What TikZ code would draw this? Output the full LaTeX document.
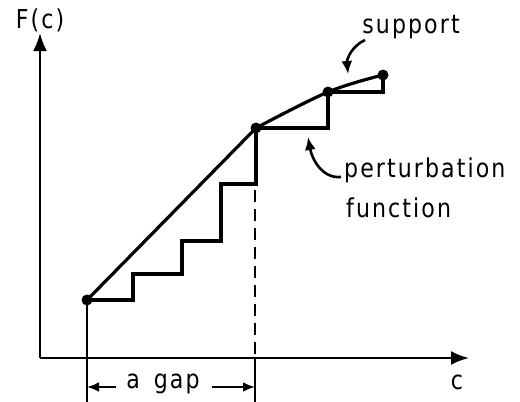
\documentclass[tikz,border=0pt]{standalone}
\usepackage{fontspec}
\newfontfamily\lbl[FakeStretch=0.85,LetterSpace=8]{DejaVu Sans}
\usetikzlibrary{arrows.meta}
\begin{document}
\begin{tikzpicture}[x=1pt,y=1pt,
  curve/.style={line width=3.2pt, line join=miter},
  axis/.style={line width=2.4pt, -{Latex[length=18pt,width=14pt]}},
  dim/.style={line width=2.4pt, -{Latex[length=12pt,width=10pt]}},
  lead/.style={line width=2.6pt, -{Latex[length=13pt,width=11pt]}},
  dot/.style={circle, fill=black, inner sep=0pt, minimum size=11pt},
  txt/.style={font=\lbl\fontsize{26}{30}\selectfont, inner sep=0pt}]
\useasboundingbox (0,0) rectangle (520,-402);
% points
\node[dot] (A) at (87,-300) {};
\node[dot] (B) at (256,-128) {};
\node[dot] (C) at (328,-92) {};
\node[dot] (D) at (383,-75) {};
\coordinate (O) at (40,-358);
\coordinate (Ytop) at (40,-33);
\coordinate (Xend) at (469,-358);
% axes
\draw[axis] (O) -- (Ytop);
\draw[axis] (O) -- (Xend);
\node[txt] (Fc) at (40,-20) {F(c)};
\node[txt] (c) at (457,-382) {c};
% support curve
\draw[curve] (A.center) -- (B.center);
\draw[curve] plot[smooth, tension=0.6] coordinates {(B.center) (C.center) (D.center)};
% perturbation steps
\draw[curve] (A.center) -- (133,-300) -- (133,-274) -- (182,-274) -- (182,-241)
  -- (221,-241) -- (221,-184) -- (256,-184) -- (B.center)
  -- (328,-128) -- (C.center) -- (383,-92) -- (D.center);
% verticals
\coordinate (Abot) at (87,-402);
\coordinate (Bdash) at (255,-190);
\coordinate (Baxis) at (255,-358);
\coordinate (Bbot) at (255,-402);
\draw[line width=2.4pt] (A.center) -- (Abot);
\draw[line width=2.4pt, dash pattern=on 12pt off 7pt] (Bdash) -- (Baxis);
\draw[line width=2.4pt] (Baxis) -- (Bbot);
% gap dimension
\node[txt] (gap) at (163,-384) {a\hspace{14pt}gap};
\coordinate (gl) at (87,-387);
\coordinate (gr) at (255,-387);
\draw[dim] (gap.west) ++(-10,-3) -- (gl);
\draw[dim] (gap.east) ++(12,-3) -- (gr);
% labels
\node[txt] (sup) at (411,-27) {support};
\node[txt, anchor=west] (pert) at (344,-170) {perturbation};
\node[txt, anchor=west] (func) at (346,-208) {function};
\coordinate (st) at (365,-40);
\coordinate (se) at (348,-74);
\draw[lead] (st) to[out=205,in=95] (se);
\coordinate (pt) at (341,-177);
\coordinate (pe) at (308,-137);
\draw[lead] (pt) to[out=185,in=-80] (pe);
\end{tikzpicture}
\end{document}
